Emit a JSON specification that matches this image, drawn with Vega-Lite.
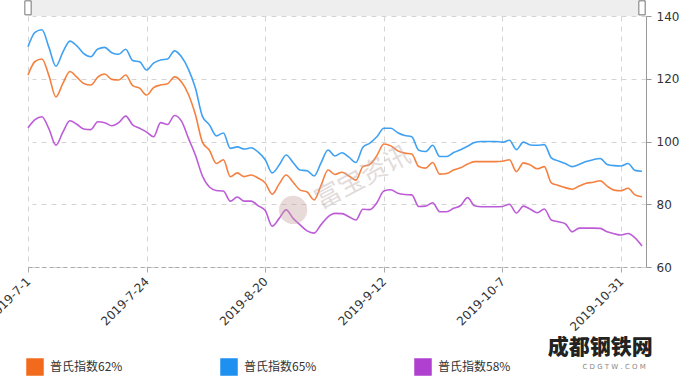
{
  "$schema": "https://vega.github.io/schema/vega-lite/v6.json",
  "width": 618,
  "height": 251,
  "autosize": "none",
  "padding": {"left": 28, "top": 16, "right": 46, "bottom": 110},
  "background": "white",
  "view": {"stroke": null},
  "config": {"font": "DejaVu Sans"},
  "data": {"values": [
    {"d":"2019-7-1","普氏指数62%":121.2,"普氏指数65%":130.2,"普氏指数58%":104.4},
    {"d":"2019-7-2","普氏指数62%":125.5,"普氏指数65%":134.8,"普氏指数58%":107},
    {"d":"2019-7-3","普氏指数62%":126.3,"普氏指数65%":135.6,"普氏指数58%":107.9},
    {"d":"2019-7-4","普氏指数62%":121,"普氏指数65%":130,"普氏指数58%":104},
    {"d":"2019-7-5","普氏指数62%":114.2,"普氏指数65%":124,"普氏指数58%":98.8},
    {"d":"2019-7-8","普氏指数62%":118.5,"普氏指数65%":128.5,"普氏指数58%":103},
    {"d":"2019-7-9","普氏指数62%":122.3,"普氏指数65%":132,"普氏指数58%":106.6},
    {"d":"2019-7-10","普氏指数62%":120.5,"普氏指数65%":130.5,"普氏指数58%":105.5},
    {"d":"2019-7-11","普氏指数62%":118.5,"普氏指数65%":128,"普氏指数58%":104},
    {"d":"2019-7-12","普氏指数62%":118,"普氏指数65%":127,"普氏指数58%":103.8},
    {"d":"2019-7-15","普氏指数62%":120.5,"普氏指数65%":129.5,"普氏指数58%":106.3},
    {"d":"2019-7-16","普氏指数62%":121.5,"普氏指数65%":130,"普氏指数58%":106},
    {"d":"2019-7-17","普氏指数62%":119.8,"普氏指数65%":128.3,"普氏指数58%":105},
    {"d":"2019-7-18","普氏指数62%":119.6,"普氏指数65%":127.8,"普氏指数58%":106},
    {"d":"2019-7-19","普氏指数62%":121.2,"普氏指数65%":129.4,"普氏指数58%":108.1},
    {"d":"2019-7-22","普氏指数62%":117.8,"普氏指数65%":125.8,"普氏指数58%":105.3},
    {"d":"2019-7-23","普氏指数62%":117,"普氏指数65%":125.4,"普氏指数58%":104.2},
    {"d":"2019-7-24","普氏指数62%":114.8,"普氏指数65%":122.8,"普氏指数58%":103},
    {"d":"2019-7-25","普氏指数62%":117.2,"普氏指数65%":125,"普氏指数58%":101.5},
    {"d":"2019-7-26","普氏指数62%":118,"普氏指数65%":126,"普氏指数58%":106},
    {"d":"2019-7-29","普氏指数62%":118.4,"普氏指数65%":126.3,"普氏指数58%":105.4},
    {"d":"2019-7-30","普氏指数62%":120.6,"普氏指数65%":128.9,"普氏指数58%":108.3},
    {"d":"2019-7-31","普氏指数62%":119,"普氏指数65%":127,"普氏指数58%":106.5},
    {"d":"2019-8-1","普氏指数62%":115,"普氏指数65%":123,"普氏指数58%":101},
    {"d":"2019-8-2","普氏指数62%":108.5,"普氏指数65%":117,"普氏指数58%":95.6},
    {"d":"2019-8-5","普氏指数62%":99.8,"普氏指数65%":108,"普氏指数58%":89},
    {"d":"2019-8-6","普氏指数62%":97.2,"普氏指数65%":105.3,"普氏指数58%":85.5},
    {"d":"2019-8-7","普氏指数62%":93,"普氏指数65%":101.8,"普氏指数58%":84.4},
    {"d":"2019-8-8","普氏指数62%":94.2,"普氏指数65%":102.7,"普氏指数58%":84.2},
    {"d":"2019-8-13","普氏指数62%":88.8,"普氏指数65%":97.8,"普氏指数58%":81},
    {"d":"2019-8-14","普氏指数62%":90,"普氏指数65%":98.3,"普氏指数58%":82.3},
    {"d":"2019-8-15","普氏指数62%":88.8,"普氏指数65%":97.6,"普氏指数58%":81},
    {"d":"2019-8-16","普氏指数62%":89.3,"普氏指数65%":98,"普氏指数58%":81},
    {"d":"2019-8-19","普氏指数62%":88.3,"普氏指数65%":96.6,"普氏指数58%":79.5},
    {"d":"2019-8-20","普氏指数62%":86.8,"普氏指数65%":94.2,"普氏指数58%":78},
    {"d":"2019-8-21","普氏指数62%":83.2,"普氏指数65%":90,"普氏指数58%":73},
    {"d":"2019-8-22","普氏指数62%":86.5,"普氏指数65%":92.5,"普氏指数58%":75.5},
    {"d":"2019-8-23","普氏指数62%":89.3,"普氏指数65%":95.7,"普氏指数58%":78.2},
    {"d":"2019-8-26","普氏指数62%":87,"普氏指数65%":93.3,"普氏指数58%":75.5},
    {"d":"2019-8-27","普氏指数62%":84.5,"普氏指数65%":90.9,"普氏指数58%":73.4},
    {"d":"2019-8-28","普氏指数62%":83.9,"普氏指数65%":90.7,"普氏指数58%":71.5},
    {"d":"2019-8-29","普氏指数62%":81.4,"普氏指数65%":89,"普氏指数58%":70.8},
    {"d":"2019-8-30","普氏指数62%":86,"普氏指数65%":93.2,"普氏指数58%":73.5},
    {"d":"2019-9-2","普氏指数62%":90.9,"普氏指数65%":97.3,"普氏指数58%":76},
    {"d":"2019-9-3","普氏指数62%":89.5,"普氏指数65%":95.4,"普氏指数58%":77.1},
    {"d":"2019-9-4","普氏指数62%":90.2,"普氏指数65%":96.4,"普氏指数58%":77},
    {"d":"2019-9-5","普氏指数62%":89,"普氏指数65%":95,"普氏指数58%":76},
    {"d":"2019-9-6","普氏指数62%":87.7,"普氏指数65%":93.3,"普氏指数58%":75},
    {"d":"2019-9-9","普氏指数62%":92,"普氏指数65%":98.2,"普氏指数58%":78.4},
    {"d":"2019-9-10","普氏指数62%":92.7,"普氏指数65%":99.5,"普氏指数58%":78.3},
    {"d":"2019-9-11","普氏指数62%":95.5,"普氏指数65%":101.5,"普氏指数58%":80.5},
    {"d":"2019-9-12","普氏指数62%":99.2,"普氏指数65%":104.2,"普氏指数58%":84.2},
    {"d":"2019-9-13","普氏指数62%":98.6,"普氏指数65%":104.2,"普氏指数58%":84.6},
    {"d":"2019-9-16","普氏指数62%":97,"普氏指数65%":102.8,"普氏指数58%":83.5},
    {"d":"2019-9-17","普氏指数62%":96.3,"普氏指数65%":101.9,"普氏指数58%":83.1},
    {"d":"2019-9-18","普氏指数62%":96,"普氏指数65%":101.5,"普氏指数58%":83},
    {"d":"2019-9-19","普氏指数62%":92,"普氏指数65%":97.2,"普氏指数58%":79.3},
    {"d":"2019-9-20","普氏指数62%":91.5,"普氏指数65%":96.8,"普氏指数58%":79.4},
    {"d":"2019-9-23","普氏指数62%":93.3,"普氏指数65%":98.8,"普氏指数58%":80.5},
    {"d":"2019-9-24","普氏指数62%":89.6,"普氏指数65%":95.2,"普氏指数58%":77.6},
    {"d":"2019-9-25","普氏指数62%":89.8,"普氏指数65%":95.2,"普氏指数58%":77.6},
    {"d":"2019-9-26","普氏指数62%":90.9,"普氏指数65%":96.5,"普氏指数58%":78.7},
    {"d":"2019-9-27","普氏指数62%":91.6,"普氏指数65%":97.4,"普氏指数58%":79.6},
    {"d":"2019-9-30","普氏指数62%":92.8,"普氏指数65%":98.5,"普氏指数58%":82.1},
    {"d":"2019-10-1","普氏指数62%":93.6,"普氏指数65%":99.7,"普氏指数58%":79.5},
    {"d":"2019-10-2","普氏指数62%":93.6,"普氏指数65%":100,"普氏指数58%":79.2},
    {"d":"2019-10-3","普氏指数62%":93.6,"普氏指数65%":100,"普氏指数58%":79.2},
    {"d":"2019-10-4","普氏指数62%":93.6,"普氏指数65%":100,"普氏指数58%":79.2},
    {"d":"2019-10-7","普氏指数62%":93.7,"普氏指数65%":99.8,"普氏指数58%":79.3},
    {"d":"2019-10-8","普氏指数62%":94.2,"普氏指数65%":100.4,"普氏指数58%":80},
    {"d":"2019-10-9","普氏指数62%":90.4,"普氏指数65%":97.4,"普氏指数58%":77.2},
    {"d":"2019-10-10","普氏指数62%":93.2,"普氏指数65%":99.8,"普氏指数58%":79.4},
    {"d":"2019-10-11","普氏指数62%":92.5,"普氏指数65%":98.9,"普氏指数58%":78.4},
    {"d":"2019-10-14","普氏指数62%":91.3,"普氏指数65%":98.8,"普氏指数58%":77.3},
    {"d":"2019-10-15","普氏指数62%":92,"普氏指数65%":99,"普氏指数58%":78.5},
    {"d":"2019-10-16","普氏指数62%":86.8,"普氏指数65%":94.8,"普氏指数58%":75},
    {"d":"2019-10-17","普氏指数62%":86,"普氏指数65%":93.8,"普氏指数58%":74.4},
    {"d":"2019-10-18","普氏指数62%":85.3,"普氏指数65%":93,"普氏指数58%":73.8},
    {"d":"2019-10-21","普氏指数62%":84.8,"普氏指数65%":92,"普氏指数58%":71.2},
    {"d":"2019-10-22","普氏指数62%":85.8,"普氏指数65%":92.7,"普氏指数58%":72.4},
    {"d":"2019-10-23","普氏指数62%":86.7,"普氏指数65%":93.6,"普氏指数58%":72.4},
    {"d":"2019-10-24","普氏指数62%":87,"普氏指数65%":94.2,"普氏指数58%":72.4},
    {"d":"2019-10-25","普氏指数62%":87.5,"普氏指数65%":94.6,"普氏指数58%":72.3},
    {"d":"2019-10-29","普氏指数62%":85.8,"普氏指数65%":92.7,"普氏指数58%":71.2},
    {"d":"2019-10-30","普氏指数62%":84.5,"普氏指数65%":92.3,"普氏指数58%":70.6},
    {"d":"2019-10-31","普氏指数62%":84.3,"普氏指数65%":92.2,"普氏指数58%":70.2},
    {"d":"2019-11-1","普氏指数62%":85.1,"普氏指数65%":93,"普氏指数58%":70.7},
    {"d":"2019-11-4","普氏指数62%":83,"普氏指数65%":90.8,"普氏指数58%":69.3},
    {"d":"2019-11-5","普氏指数62%":82.4,"普氏指数65%":90.5,"普氏指数58%":66.7}
  ]},
  "layer": [
    {
      "data": {"values": [{"band": "zoom"}]},
      "mark": {"type": "rect", "color": "#eeeeee", "clip": false},
      "encoding": {
        "y": {"datum": 140, "type": "quantitative"},
        "y2": {"datum": 145.1}
      }
    },
    {
      "transform": [{"fold": ["普氏指数62%", "普氏指数65%", "普氏指数58%"], "as": ["s", "v"]}],
      "mark": {"type": "line", "interpolate": "monotone", "strokeWidth": 1.6, "strokeOpacity": 0.85},
      "encoding": {
        "x": {
          "field": "d", "type": "ordinal",
          "scale": {"type": "point", "padding": 0, "range": [0, 614], "domain": [
            "2019-7-1","2019-7-2","2019-7-3","2019-7-4","2019-7-5","2019-7-8","2019-7-9","2019-7-10","2019-7-11","2019-7-12",
            "2019-7-15","2019-7-16","2019-7-17","2019-7-18","2019-7-19","2019-7-22","2019-7-23","2019-7-24","2019-7-25","2019-7-26",
            "2019-7-29","2019-7-30","2019-7-31","2019-8-1","2019-8-2","2019-8-5","2019-8-6","2019-8-7","2019-8-8",
            "2019-8-13","2019-8-14","2019-8-15","2019-8-16","2019-8-19","2019-8-20","2019-8-21","2019-8-22","2019-8-23",
            "2019-8-26","2019-8-27","2019-8-28","2019-8-29","2019-8-30","2019-9-2","2019-9-3","2019-9-4","2019-9-5","2019-9-6",
            "2019-9-9","2019-9-10","2019-9-11","2019-9-12","2019-9-13","2019-9-16","2019-9-17","2019-9-18","2019-9-19","2019-9-20",
            "2019-9-23","2019-9-24","2019-9-25","2019-9-26","2019-9-27","2019-9-30","2019-10-1","2019-10-2","2019-10-3","2019-10-4",
            "2019-10-7","2019-10-8","2019-10-9","2019-10-10","2019-10-11","2019-10-14","2019-10-15","2019-10-16","2019-10-17","2019-10-18",
            "2019-10-21","2019-10-22","2019-10-23","2019-10-24","2019-10-25","2019-10-29","2019-10-30","2019-10-31","2019-11-1","2019-11-4","2019-11-5"
          ]},
          "axis": {
            "title": null,
            "values": ["2019-7-1", "2019-7-24", "2019-8-20", "2019-9-12", "2019-10-7", "2019-10-31"],
            "labelAngle": -45, "labelAlign": "right", "labelBaseline": "middle",
            "labelFont": "DejaVu Sans", "labelFontSize": 12, "labelColor": "#333333",
            "labelPadding": 7, "labelOverlap": false, "labelBound": false,
            "domainColor": "#aaaaaa", "domainDash": [4, 3],
            "tickColor": "#aaaaaa", "tickSize": 5,
            "grid": true, "gridColor": "#d4d4d4", "gridDash": [5, 5], "gridWidth": 1
          }
        },
        "y": {
          "field": "v", "type": "quantitative",
          "scale": {"domain": [60, 140], "nice": false, "zero": false},
          "axis": {
            "title": null, "orient": "right",
            "values": [60, 80, 100, 120, 140],
            "labelFont": "DejaVu Sans", "labelFontSize": 12, "labelColor": "#333333",
            "labelPadding": 5,
            "domainColor": "#999999", "tickColor": "#999999", "tickSize": 5,
            "grid": true, "gridColor": "#d4d4d4", "gridDash": [5, 5]
          }
        },
        "color": {
          "field": "s", "type": "nominal",
          "scale": {"domain": ["普氏指数62%", "普氏指数65%", "普氏指数58%"], "range": ["#F26B1D", "#1E90F0", "#B040D0"]},
          "legend": {
            "title": null, "orient": "none", "legendX": -2, "legendY": 342,
            "direction": "horizontal", "padding": 0,
            "symbolType": "square", "symbolSize": 256,
            "labelFont": "Noto Sans CJK SC", "labelFontSize": 12, "labelColor": "#333333",
            "labelOffset": 6, "columnPadding": 95,
            "encode": {"symbols": {"update": {
              "fill": {"scale": "color", "field": "value"},
              "stroke": {"value": "transparent"},
              "opacity": {"value": 1},
              "fillOpacity": {"value": 1},
              "shape": {"value": "square"},
              "size": {"value": 256}
            }}}
          }
        }
      }
    },
    {
      "data": {"values": [{"h": "2019-7-1"}, {"h": "2019-11-5"}]},
      "mark": {"type": "point", "filled": true, "shape": "M-0.45,-1H0.45V1H-0.45Z", "size": 196, "fill": "#ffffff", "stroke": "#777777", "strokeWidth": 1, "opacity": 1, "clip": false},
      "encoding": {
        "x": {"field": "h", "type": "ordinal"},
        "y": {"datum": 142.6, "type": "quantitative"}
      }
    },
    {
      "data": {"values": [{"w": "logo"}]},
      "mark": {"type": "point", "filled": true, "color": "#c9a3a3", "opacity": 0.4, "size": 800, "clip": false},
      "encoding": {
        "x": {"datum": "2019-8-26", "type": "ordinal"},
        "y": {"datum": 78.2, "type": "quantitative"}
      }
    },
    {
      "data": {"values": [{"t": "富宝资讯"}]},
      "mark": {"type": "text", "font": "Noto Sans CJK SC", "fontSize": 26, "angle": 332, "color": "#bfb0b0", "opacity": 0.45, "clip": false},
      "encoding": {
        "x": {"datum": "2019-9-9", "type": "ordinal"},
        "y": {"datum": 88.4, "type": "quantitative"},
        "text": {"field": "t"}
      }
    },
    {
      "data": {"values": [{"t": "成都钢铁网"}]},
      "mark": {"type": "text", "font": "Noto Sans CJK SC", "fontSize": 21, "fontWeight": 900, "color": "#222222", "clip": false},
      "encoding": {
        "x": {"datum": "2019-10-25", "type": "ordinal"},
        "y": {"datum": 34.2, "type": "quantitative"},
        "text": {"field": "t"}
      }
    },
    {
      "data": {"values": [{"t": "C D G T W . C O M"}]},
      "mark": {"type": "text", "font": "DejaVu Sans", "fontSize": 7, "color": "#888888", "clip": false},
      "encoding": {
        "x": {"datum": "2019-10-30", "type": "ordinal"},
        "y": {"datum": 28.2, "type": "quantitative"},
        "text": {"field": "t"}
      }
    }
  ]
}
